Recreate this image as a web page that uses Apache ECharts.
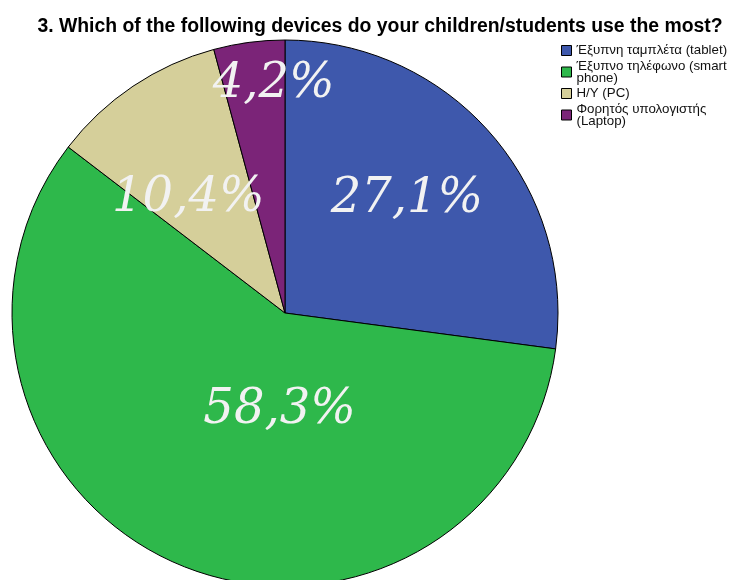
<!DOCTYPE html>
<html>
<head>
<meta charset="utf-8">
<script src="https://cdn.jsdelivr.net/npm/echarts@6/dist/echarts.min.js"></script>
<style>
  html, body { margin: 0; padding: 0; background: #fff; }
  #pieChart { width: 729px; height: 580px; }
</style>
</head>
<body>
<div id="pieChart"></div>
<script>
// 饼图
const pieChart = echarts.init(document.getElementById('pieChart'));
const devices = [
  'Έξυπνη ταμπλέτα (tablet)',
  'Έξυπνο τηλέφωνο (smart\nphone)',
  'Η/Υ (PC)',
  'Φορητός υπολογιστής\n(Laptop)'
];
const percents = [27.1, 58.3, 10.4, 4.2];
const colors = ['#3e58ac', '#2eb84b', '#d5cf9a', '#7b2478'];
// label nudges, px
const labelShift = [[17, -22], [48, -31], [-19, 1], [7, -90]];

const pieData = devices.map((name, i) => ({
  name: name,
  value: percents[i],
  itemStyle: {
    color: colors[i]
  }
}));

const pieOption = {
  animation: false,
  title: {
    text: '3. Which of the following devices do your children/students use the most?',
    left: 380,
    textAlign: 'center',
    top: 17,
    padding: 0,
    textStyle: {
      fontFamily: 'Liberation Sans',
      fontWeight: 'bold',
      fontSize: 19.4,
      color: '#000'
    }
  },
  legend: {
    orient: 'vertical',
    left: 561,
    top: 44,
    padding: 0,
    itemWidth: 10,
    itemHeight: 10,
    itemGap: 2.5,
    icon: 'rect',
    itemStyle: {
      borderColor: '#000',
      borderWidth: 1
    },
    textStyle: {
      fontFamily: 'Liberation Sans',
      fontSize: 13.3,
      lineHeight: 12,
      color: '#111'
    },
    data: devices
  },
  series: [
    {
      type: 'pie',
      center: [285, 313],
      radius: 273,
      startAngle: 90,
      clockwise: true,
      silent: true,
      itemStyle: {
        borderColor: '#000',
        borderWidth: 1
      },
      label: {
        show: true,
        position: 'inside',
        formatter: function(p) {
          return p.value.toFixed(1).replace('.', ',') + '%';
        },
        fontFamily: 'DejaVu Serif',
        fontStyle: 'italic',
        fontSize: 48,
        color: '#f2f2f2'
      },
      labelLine: {
        show: false
      },
      labelLayout: function(params) {
        const s = labelShift[params.dataIndex];
        return { dx: s[0], dy: s[1] };
      },
      data: pieData
    }
  ]
};
pieChart.setOption(pieOption);

window.onresize = function() {
  pieChart.resize();
};
</script>
</body>
</html>
